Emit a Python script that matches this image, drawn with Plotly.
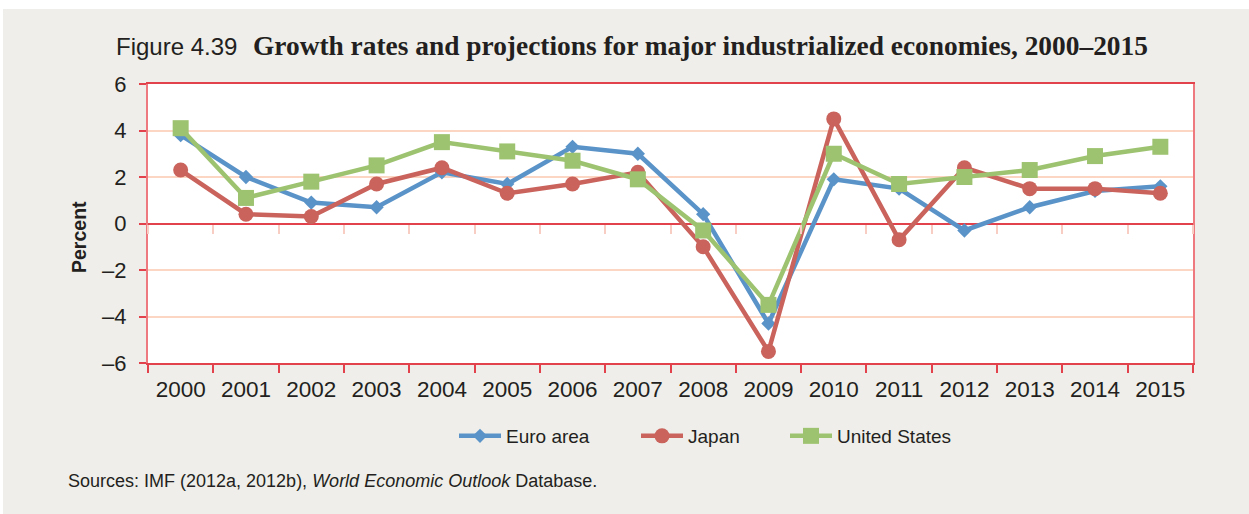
import plotly.graph_objects as go

years = [str(y) for y in range(2000, 2016)]
euro = [3.8, 2.0, 0.9, 0.7, 2.2, 1.7, 3.3, 3.0, 0.4, -4.3, 1.9, 1.5, -0.3, 0.7, 1.4, 1.6]
japan = [2.3, 0.4, 0.3, 1.7, 2.4, 1.3, 1.7, 2.2, -1.0, -5.5, 4.5, -0.7, 2.4, 1.5, 1.5, 1.3]
usa = [4.1, 1.1, 1.8, 2.5, 3.5, 3.1, 2.7, 1.9, -0.3, -3.5, 3.0, 1.7, 2.0, 2.3, 2.9, 3.3]
y_ticks = [-6, -4, -2, 0, 2, 4, 6]

BLUE = "#5a93c8"
RED = "#c9635c"
GREEN = "#9dc370"
AXRED = "#ee7a80"
GRID = "#fcd5c3"
FONT = "Liberation Sans, Arial, sans-serif"
TXT = "#231f20"

W, H = 1249, 514
L, R, T, B = 148, 56, 84, 151

fig = go.Figure()

fig.add_trace(go.Scatter(x=years, y=euro, name="Euro area", mode="lines+markers",
                         line=dict(color=BLUE, width=4.5),
                         marker=dict(symbol="diamond", size=11, color=BLUE),
                         legend="legend"))
fig.add_trace(go.Scatter(x=years, y=japan, name="Japan", mode="lines+markers",
                         line=dict(color=RED, width=4.5),
                         marker=dict(symbol="circle", size=15, color=RED),
                         legend="legend2"))
fig.add_trace(go.Scatter(x=years, y=usa, name="United States", mode="lines+markers",
                         line=dict(color=GREEN, width=4.5),
                         marker=dict(symbol="square", size=16, color=GREEN),
                         legend="legend3"))
# carrier for the faint ticks along the zero line
fig.add_trace(go.Scatter(x=years, y=euro, xaxis="x2", mode="lines", opacity=0,
                         line=dict(width=0), hoverinfo="skip", showlegend=False))

def px_x(p):
    return (p - L) / (W - L - R)

def px_y(p):
    return (H - B - p) / (H - T - B)

fig.update_layout(
    width=W, height=H, autosize=False,
    margin=dict(l=L, r=R, t=T, b=B),
    paper_bgcolor="#efeeea",
    plot_bgcolor="white",
    font=dict(family=FONT, color=TXT, size=20),
    title=dict(
        text=("<span style='font-size:24px'>Figure 4.39</span>"
              "  <span style='font-family:Liberation Serif, Times New Roman, serif;font-size:27.4px'><b>Growth rates and projections for major industrialized economies, 2000\u20132015</b></span>"),
        xref="container", yref="container", x=116 / W, xanchor="left",
        y=1 - 45 / H, yanchor="middle",
        font=dict(color=TXT),
    ),
    xaxis=dict(
        type="category", categoryorder="array", categoryarray=years,
        range=[-0.5, 15.5], tickson="boundaries",
        ticks="outside", ticklen=8, tickwidth=1.5, tickcolor="#e2424c",
        showline=True, linecolor="#e2424c", linewidth=1.5, mirror=True,
        showgrid=False, tickfont=dict(size=22.5, color=TXT),
        ticklabelstandoff=5,
    ),
    xaxis2=dict(
        type="category", overlaying="x", matches="x", anchor="free",
        position=0.5, side="bottom", tickson="boundaries",
        ticks="outside", ticklen=9, tickwidth=1.5, tickcolor="#f8cdc4",
        showticklabels=False, showline=False, showgrid=False, zeroline=False,
    ),
    yaxis=dict(
        range=[-6, 6], tickvals=y_ticks,
        ticktext=[("\u2013" + str(abs(v))) if v < 0 else str(v) for v in y_ticks],
        ticks="outside", ticklen=7, tickwidth=1.5, tickcolor="#e2424c",
        showline=True, linecolor=AXRED, linewidth=2, mirror=True,
        showgrid=True, gridcolor=GRID, gridwidth=1.5,
        zeroline=True, zerolinecolor="#e2424c", zerolinewidth=1.5,
        tickfont=dict(size=22, color=TXT), ticklabelstandoff=8,
    ),
    showlegend=True,
)

leg_common = dict(orientation="h", xref="container", yref="container",
                  yanchor="middle", xanchor="left", bgcolor="rgba(0,0,0,0)",
                  font=dict(size=19, color=TXT), itemwidth=42)
fig.update_layout(
    legend=dict(x=454 / W, y=1 - 436 / H, **leg_common),
    legend2=dict(x=636 / W, y=1 - 436 / H, **leg_common),
    legend3=dict(x=785 / W, y=1 - 436 / H, **leg_common),
)

fig.add_annotation(text="<b>Percent</b>", textangle=-90, xref="paper", yref="paper",
                   x=px_x(79), y=px_y(237), showarrow=False,
                   font=dict(size=19.5, color=TXT), xanchor="center", yanchor="middle")
fig.add_annotation(text="Sources: IMF (2012a, 2012b), <i>World Economic Outlook</i> Database.",
                   xref="paper", yref="paper", x=px_x(66), y=px_y(481),
                   xanchor="left", yanchor="middle", showarrow=False,
                   font=dict(size=18, color=TXT))

# white frame strips around the grey panel
fig.add_shape(type="rect", xref="paper", yref="paper", x0=px_x(0), x1=px_x(W),
              y0=px_y(9), y1=px_y(0), fillcolor="white", line=dict(width=0), layer="above")
fig.add_shape(type="rect", xref="paper", yref="paper", x0=px_x(0), x1=px_x(3),
              y0=px_y(H), y1=px_y(0), fillcolor="white", line=dict(width=0), layer="above")

fig.write_html("out.html", config={"displayModeBar": False},
               post_script="document.body.style.margin='0';document.body.style.overflow='hidden';")
